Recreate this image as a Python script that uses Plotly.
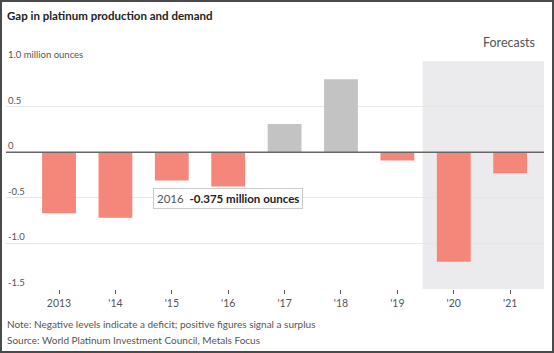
import plotly.graph_objects as go

years = [2013, 2014, 2015, 2016, 2017, 2018, 2019, 2020, 2021]
tick_labels = ["2013", "'14", "'15", "'16", "'17", "'18", "'19", "'20", "'21"]
gap = [-0.67, -0.72, -0.31, -0.375, 0.31, 0.80, -0.09, -1.20, -0.23]
y_ticks = [1.0, 0.5, 0, -0.5, -1.0, -1.5]
y_tick_labels = ["1.0 million ounces", "0.5", "0", "-0.5", "-1.0", "-1.5"]

RED = "#f5877a"
GRAY = "#c3c3c3"
colors = [RED if v < 0 else GRAY for v in gap]

FONT = "Lato, Roboto, sans-serif"

W, H = 554, 353
L, R, T, B = 6, 10, 61, 64
pw, ph = W - L - R, H - T - B

def px_x(p):
    return (p - L) / pw

def px_y(p):
    return 1 - (p - T) / ph

fig = go.Figure()
fig.add_trace(go.Bar(
    x=years, y=gap, marker_color=colors, marker_line_width=0,
    width=0.6, hoverinfo="skip",
))

shapes = [
    dict(type="rect", xref="x", yref="paper", x0=2019.45, x1=2021.6, y0=0, y1=1,
         fillcolor="#ebebed", line_width=0, layer="below"),
    dict(type="line", xref="paper", yref="y", x0=0, x1=1, y0=0, y1=0,
         line=dict(color="#666666", width=1.5), layer="above"),
    dict(type="rect", xref="paper", yref="paper",
         x0=px_x(1), x1=px_x(W - 1), y0=px_y(H - 1), y1=px_y(1),
         line=dict(color="#4a4a4a", width=2), fillcolor="rgba(0,0,0,0)", layer="above"),
]

annotations = []
for v, lab in zip(y_ticks, y_tick_labels):
    annotations.append(dict(
        xref="paper", yref="y", x=0, y=v, text=lab, showarrow=False,
        xanchor="left", yanchor="bottom", yshift=-1,
        font=dict(family=FONT, size=9.5, color="#555555"),
    ))

annotations += [
    dict(xref="paper", yref="paper", x=px_x(5), y=px_y(15), text="<b>Gap in platinum production and demand</b>",
         showarrow=False, xanchor="left", yanchor="middle",
         font=dict(family=FONT, size=11.5, color="#222222")),
    dict(xref="paper", yref="paper", x=px_x(537), y=px_y(42), text="Forecasts",
         showarrow=False, xanchor="right", yanchor="middle",
         font=dict(family=FONT, size=12.5, color="#555555")),
    dict(xref="paper", yref="paper", x=px_x(5), y=px_y(324),
         text="Note: Negative levels indicate a deficit; positive figures signal a surplus",
         showarrow=False, xanchor="left", yanchor="middle",
         font=dict(family=FONT, size=10, color="#555555")),
    dict(xref="paper", yref="paper", x=px_x(5), y=px_y(340),
         text="Source: World Platinum Investment Council, Metals Focus",
         showarrow=False, xanchor="left", yanchor="middle",
         font=dict(family=FONT, size=10, color="#555555")),
    dict(xref="x", yref="y", x=2016, y=-0.513,
         text="<span style='color:#555555'>2016</span>  <b>-0.375 million ounces</b>",
         showarrow=False, xanchor="center", yanchor="middle",
         bgcolor="white", bordercolor="#cccccc", borderwidth=1, borderpad=3,
         font=dict(family=FONT, size=11.5, color="#222222")),
]

fig.update_layout(
    width=W, height=H,
    margin=dict(l=L, r=R, t=T, b=B),
    paper_bgcolor="white", plot_bgcolor="white",
    showlegend=False,
    shapes=shapes, annotations=annotations,
    bargap=0.4,
    xaxis=dict(
        range=[2012.06, 2021.6], tickmode="array", tickvals=years, ticktext=tick_labels,
        showgrid=False, zeroline=False, ticks="outside", ticklen=4, tickcolor="#555555",
        tickfont=dict(family=FONT, size=10.5, color="#555555"), showline=False,
    ),
    yaxis=dict(
        range=[-1.5, 1.0], tickvals=y_ticks, showticklabels=False,
        showgrid=True, gridcolor="#e6e6e6", gridwidth=1, zeroline=False,
    ),
)

fig.write_html("out.html")
